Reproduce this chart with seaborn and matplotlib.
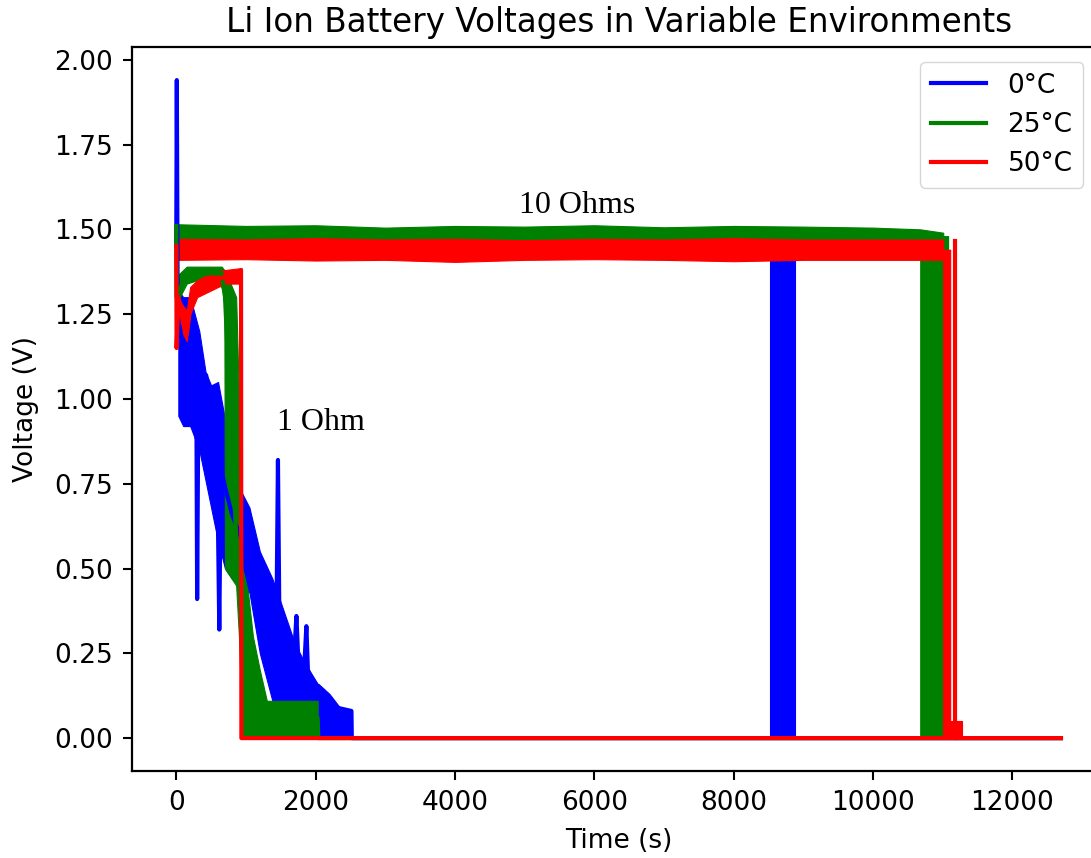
import numpy as np
import pandas as pd
import matplotlib
matplotlib.use('Agg')
import matplotlib.pyplot as plt
import seaborn as sns

# ---- data (time in s, voltage in V) ----
# thin line paths (spikes, drops, zero line)
blue_line_t = [0, 8, 20, 60, 120, 180, 240, 290, 300, 315, 380, 430, 470, 520, 590, 618, 640, 700, 800,
               950, 1100, 1250, 1400, 1440, 1460, 1480, 1560, 1700, 1725, 1750, 1840, 1868, 1890, 2000,
               2150, 2300, 2515, 2520, 12700]
blue_line_v = [1.45, 1.94, 1.30, 1.20, 1.05, 1.15, 1.02, 0.95, 0.41, 0.92, 0.98, 1.07, 0.95, 0.85, 0.78,
               0.32, 0.80, 0.74, 0.66, 0.58, 0.50, 0.44, 0.40, 0.38, 0.82, 0.36, 0.30, 0.27, 0.36, 0.24,
               0.22, 0.33, 0.20, 0.15, 0.12, 0.09, 0.08, 0.0, 0.0]
green_line_t = [0, 5, 150, 400, 650, 700, 860, 950, 1300, 2030, 2040, 12700]
green_line_v = [1.51, 1.30, 1.37, 1.37, 1.37, 1.30, 0.60, 0.30, 0.08, 0.06, 0.0, 0.0]
red_line_t = [0, 5, 30, 100, 150, 220, 400, 700, 900, 930, 935, 12700]
red_line_v = [1.45, 1.15, 1.30, 1.22, 1.19, 1.30, 1.34, 1.36, 1.37, 1.38, 0.0, 0.0]

# noisy bands, 1 Ohm runs
blue_1ohm_t = [30, 100, 200, 330, 420, 500, 600, 700, 800, 900, 1050, 1200, 1380, 1500, 1700, 1850,
               2030, 2040, 2200, 2350, 2515]
blue_1ohm_hi = [1.32, 1.30, 1.30, 1.20, 1.08, 1.04, 1.05, 0.94, 0.82, 0.74, 0.68, 0.55, 0.47, 0.40,
                0.28, 0.22, 0.16, 0.16, 0.13, 0.09, 0.08]
blue_1ohm_lo = [0.95, 0.92, 0.92, 0.85, 0.76, 0.68, 0.58, 0.50, 0.47, 0.45, 0.43, 0.25, 0.11, 0.09,
                0.09, 0.09, 0.09, 0.0, 0.0, 0.0, 0.0]
green_1ohm_t = [0, 50, 150, 300, 500, 650, 690, 700, 860, 900, 950, 1030, 1100, 1200, 1300, 2030]
green_1ohm_hi = [1.36, 1.37, 1.39, 1.39, 1.39, 1.39, 1.38, 1.38, 1.30, 1.00, 0.50, 0.43, 0.30, 0.20,
                 0.11, 0.11]
green_1ohm_lo = [1.26, 1.30, 1.34, 1.35, 1.35, 1.33, 1.30, 0.50, 0.45, 0.30, 0.0, 0.0, 0.0, 0.0, 0.0, 0.0]
red_1ohm_t = [0, 30, 80, 150, 200, 300, 500, 700, 900, 940]
red_1ohm_hi = [1.40, 1.30, 1.28, 1.26, 1.33, 1.35, 1.37, 1.38, 1.385, 1.385]
red_1ohm_lo = [1.15, 1.20, 1.20, 1.17, 1.25, 1.30, 1.32, 1.34, 1.34, 1.34]

# noisy bands, 10 Ohm runs
blue_10ohm_t = [0, 4000, 8530, 8530, 8880]
blue_10ohm_hi = [1.47, 1.47, 1.47, 1.42, 1.42]
blue_10ohm_lo = [1.42, 1.42, 1.42, 0.0, 0.0]
green_10ohm_t = [0, 1000, 2000, 3000, 4000, 5000, 6000, 7000, 8000, 9000, 10000, 10680, 10680, 11010,
                 11010, 11080]
green_10ohm_hi = [1.515, 1.51, 1.512, 1.505, 1.51, 1.508, 1.512, 1.506, 1.51, 1.508, 1.505, 1.50, 1.50,
                  1.49, 1.48, 1.48]
green_10ohm_lo = [1.46, 1.46, 1.46, 1.46, 1.46, 1.46, 1.46, 1.46, 1.46, 1.46, 1.46, 1.46, 0.0, 0.0,
                  1.42, 1.42]
red_10ohm_t = [0, 1000, 2000, 3000, 4000, 5000, 6000, 7000, 8000, 9000, 10000, 11009, 11009, 11110]
red_10ohm_hi = [1.472, 1.47, 1.474, 1.47, 1.472, 1.468, 1.472, 1.47, 1.474, 1.47, 1.47, 1.47, 1.44, 1.44]
red_10ohm_lo = [1.41, 1.412, 1.408, 1.41, 1.404, 1.41, 1.412, 1.41, 1.406, 1.41, 1.41, 1.41, 0.0, 0.0]
red_tail_t = [11009, 11280]
red_tail_hi = [0.05, 0.05]
red_spike_t = [11180, 11180]
red_spike_v = [0.0, 1.465]

series = [
    ('0°C', 'blue', blue_line_t, blue_line_v,
     [(blue_1ohm_t, blue_1ohm_lo, blue_1ohm_hi), (blue_10ohm_t, blue_10ohm_lo, blue_10ohm_hi)]),
    ('25°C', 'green', green_line_t, green_line_v,
     [(green_1ohm_t, green_1ohm_lo, green_1ohm_hi), (green_10ohm_t, green_10ohm_lo, green_10ohm_hi)]),
    ('50°C', 'red', red_line_t, red_line_v,
     [(red_1ohm_t, red_1ohm_lo, red_1ohm_hi), (red_10ohm_t, red_10ohm_lo, red_10ohm_hi),
      (red_tail_t, [0.0, 0.0], red_tail_hi)]),
]

fig = plt.figure(figsize=(10.91, 8.58), dpi=100)
# axes runs past the right edge of the picture (cropped like the reference)
ax = fig.add_axes([0.121, 0.1014, 0.892, 0.8436])

for label, color, lt, lv, bands in series:
    for bt, lo, hi in bands:
        ax.fill_between(bt, lo, hi, color=color, linewidth=0.8)
    sns.lineplot(x=lt, y=lv, sort=False, estimator=None, color=color, linewidth=3, label=label, ax=ax)

sns.lineplot(x=red_spike_t, y=red_spike_v, sort=False, estimator=None, color='red', linewidth=3, ax=ax)

ax.text(5749, 1.57, '10 Ohms', family='Liberation Serif', fontsize=23, ha='center', va='center')
ax.text(2070, 0.93, '1 Ohm', family='Liberation Serif', fontsize=23, ha='center', va='center')

ax.set_xlim(-635, 13335)
ax.set_ylim(-0.097, 2.037)
ax.set_xticks([0, 2000, 4000, 6000, 8000, 10000, 12000])
ax.set_yticks([0.0, 0.25, 0.5, 0.75, 1.0, 1.25, 1.5, 1.75, 2.0])
ax.yaxis.set_major_formatter(matplotlib.ticker.FormatStrFormatter('%.2f'))
ax.tick_params(labelsize=19, length=6.5, width=1.5, pad=7)
for s in ax.spines.values():
    s.set_linewidth(1.6)
ax.set_title('Li Ion Battery Voltages in Variable Environments', fontsize=23.5, pad=11)
ax.set_xlabel('Time (s)', fontsize=19, labelpad=9)
ax.set_ylabel('Voltage (V)', fontsize=19, labelpad=11)

leg = ax.legend(loc='upper right', fontsize=19, handlelength=2.1, borderaxespad=0,
                bbox_to_anchor=(1083 / 1091, 1 - 62 / 858), bbox_transform=fig.transFigure)
for h in leg.get_lines():
    h.set_linewidth(3)

fig.savefig('out.png', dpi=100)
